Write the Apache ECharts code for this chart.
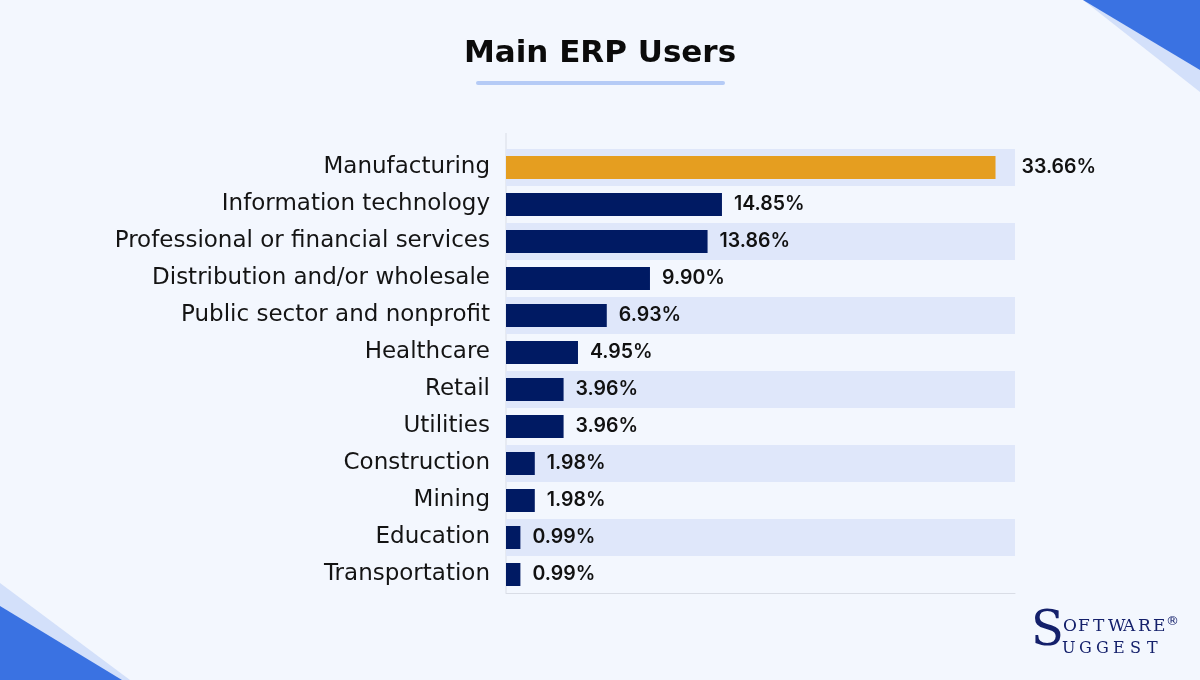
<!DOCTYPE html>
<html><head><meta charset="utf-8">
<script src="https://cdn.jsdelivr.net/npm/echarts@6/dist/echarts.min.js"></script>
<style>html,body{margin:0;padding:0;background:#f3f7fe}#c{width:1200px;height:680px}</style>
</head><body><div id="c"></div>
<script>
const categories = ['Manufacturing','Information technology','Professional or financial services','Distribution and/or wholesale','Public sector and nonprofit','Healthcare','Retail','Utilities','Construction','Mining','Education','Transportation'];
const values = [33.66,14.85,13.86,9.90,6.93,4.95,3.96,3.96,1.98,1.98,0.99,0.99];
const highlightIndex = 0;

const chart = echarts.init(document.getElementById('c'));
const data = values.map((v,i)=>{
  const d = {value:v};
  if(i===highlightIndex){ d.itemStyle={color:'#e59e20'}; d.label={distance:26}; }
  return d;
});
const logoColor = '#14206b';
const logo = [];
'OFTWARE'.split('').forEach((ch,i)=>logo.push({type:'text',left:1063+i*15,top:618,style:{text:ch,font:'17px "DejaVu Serif"',fill:logoColor}}));
'UGGEST'.split('').forEach((ch,i)=>logo.push({type:'text',left:1062+i*17,top:641,style:{text:ch,font:'16px "DejaVu Serif"',fill:logoColor}}));
logo.push({type:'text',left:1166,top:615,style:{text:'®',font:'13px "DejaVu Sans"',fill:logoColor}});
logo.push({type:'text',left:1031,top:609,style:{text:'S',font:'48px "DejaVu Serif"',fill:logoColor}});

chart.setOption({
  backgroundColor:'#f3f7fe',
  animation:false,
  title:{text:'Main ERP Users',left:'center',top:33,textStyle:{fontFamily:'DejaVu Sans',fontWeight:'bold',fontSize:31,color:'#0b0b0b'}},
  grid:{left:506,right:185,top:149,bottom:87},
  xAxis:{type:'value',min:0,max:35,show:true,axisLine:{show:true,lineStyle:{color:'#d9dde6',width:1}},axisTick:{show:false},axisLabel:{show:false},splitLine:{show:false}},
  yAxis:{type:'category',data:categories,inverse:true,
    axisLine:{show:false},axisTick:{show:false},
    axisLabel:{margin:16,fontFamily:'DejaVu Sans',fontSize:23,color:'#141414'},
    splitArea:{show:true,areaStyle:{color:['#dfe7fa','rgba(0,0,0,0)']}}
  },
  series:[{type:'bar',data:data,barWidth:23,itemStyle:{color:'#001a63'},
    label:{show:true,position:'right',distance:12,formatter:p=>p.value.toFixed(2)+'%',fontFamily:'Inter',fontSize:19.5,fontWeight:600,color:'#111'}}],
  graphic:[
    {type:'line',shape:{x1:506,y1:133,x2:506,y2:593},style:{stroke:'#d9dde6',lineWidth:1}},
    {type:'rect',shape:{x:476,y:81,width:249,height:4,r:2},style:{fill:'#b5cbf6'}},
    {type:'polygon',shape:{points:[[1083,0],[1200,0],[1200,92]]},style:{fill:'#d3e0fa'}},
    {type:'polygon',shape:{points:[[1083,0],[1200,0],[1200,70]]},style:{fill:'#3a72e2'}},
    {type:'polygon',shape:{points:[[0,583],[0,680],[130,680]]},style:{fill:'#d3e0fa'}},
    {type:'polygon',shape:{points:[[0,606],[0,680],[122,680]]},style:{fill:'#3a72e2'}}
  ].concat(logo)
});
</script></body></html>
